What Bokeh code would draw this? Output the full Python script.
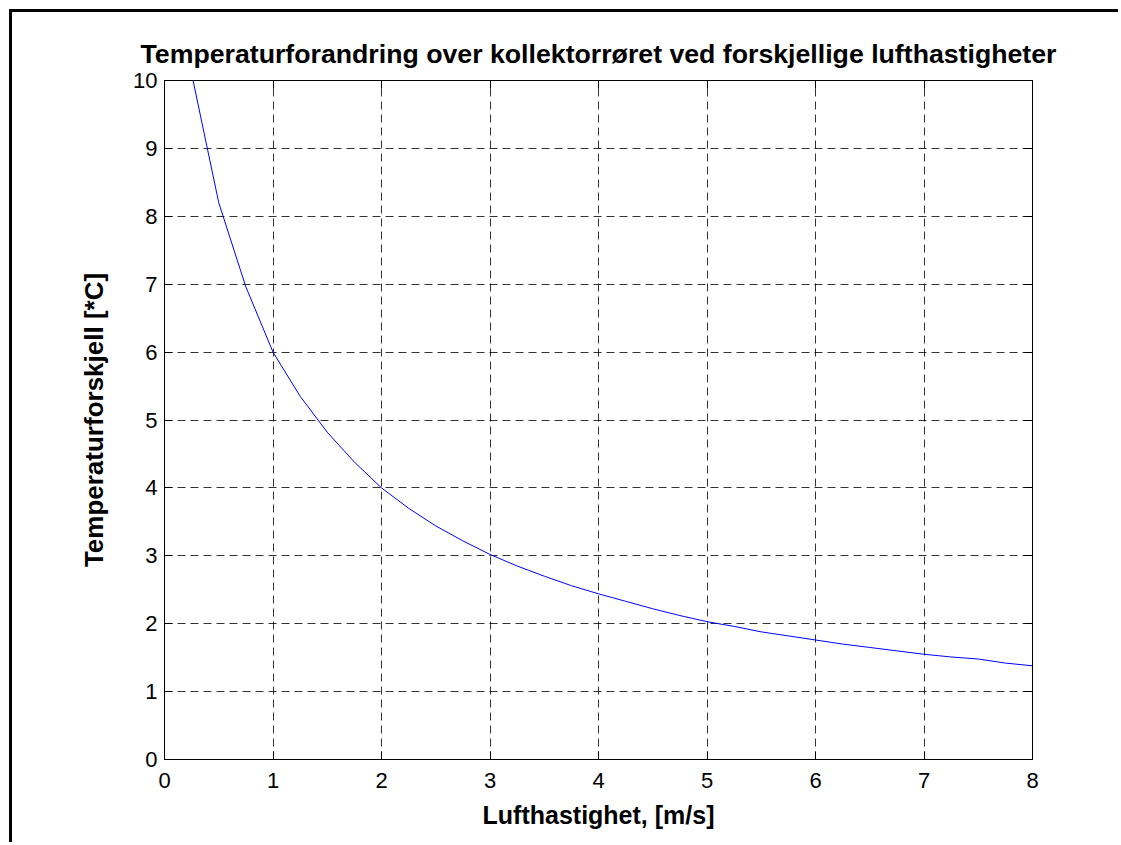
from bokeh.plotting import figure
from bokeh.models import LinearAxis, FixedTicker, Range1d
from bokeh.embed import file_html
from bokeh.resources import INLINE

title_text = "Temperaturforandring over kollektorrøret ved forskjellige lufthastigheter"
x_label = "Lufthastighet, [m/s]"
y_label = "Temperaturforskjell [*C]"

speed = [0.25, 0.5, 0.75, 1.0, 1.25, 1.5, 1.75, 2.0, 2.25, 2.5, 2.75, 3.0,
         3.25, 3.5, 3.75, 4.0, 4.25, 4.5, 4.75, 5.0, 5.25, 5.5, 5.75, 6.0,
         6.25, 6.5, 6.75, 7.0, 7.25, 7.5, 7.75, 8.0]
temp_diff = [10.1, 8.2, 6.96, 6.0, 5.35, 4.82, 4.38, 4.0, 3.70, 3.44, 3.22, 3.02,
             2.85, 2.70, 2.56, 2.44, 2.33, 2.22, 2.12, 2.03, 1.96, 1.88, 1.82, 1.76,
             1.70, 1.65, 1.60, 1.55, 1.51, 1.48, 1.42, 1.38]

x_ticks = [0, 1, 2, 3, 4, 5, 6, 7, 8]
y_ticks = [0, 1, 2, 3, 4, 5, 6, 7, 8, 9, 10]

FONT = "Liberation Sans"
OFF = 12  # outer border offset (9px margin + 3px border)

p = figure(width=1121 - OFF, height=845 - OFF, output_backend="svg", toolbar_location=None,
           x_range=Range1d(0, 8), y_range=Range1d(0, 10),
           min_border_left=164 - OFF, min_border_right=89, min_border_top=80 - OFF,
           min_border_bottom=86)
p.styles = {"margin-left": "9px", "margin-top": "9px",
            "border-left": "3px solid black", "border-top": "3px solid black"}
p.background_fill_color = "white"
p.border_fill_color = "white"
p.outline_line_color = "black"
p.outline_line_width = 1

p.title.text = title_text
p.title.text_font = FONT
p.title.text_font_size = "26.7px"
p.title.text_font_style = "bold"
p.title.text_color = "black"
p.title.align = "center"
p.title.offset = 0
p.title.standoff = 24

for ax, lab in ((p.xaxis[0], x_label), (p.yaxis[0], y_label)):
    ax.axis_label = lab
    ax.axis_label_text_font = FONT
    ax.axis_label_text_font_style = "bold"
    ax.axis_label_text_color = "black"
    ax.major_label_text_font = FONT
    ax.major_label_text_font_size = "22px"
    ax.major_label_text_color = "black"
    ax.major_tick_in = 8
    ax.major_tick_out = 0
    ax.minor_tick_line_color = None
    ax.axis_line_color = "black"
    ax.major_tick_line_color = "black"

p.xaxis[0].axis_label_text_font_size = "25px"
p.yaxis[0].axis_label_text_font_size = "26px"
p.xaxis[0].ticker = FixedTicker(ticks=x_ticks)
p.yaxis[0].ticker = FixedTicker(ticks=y_ticks)
p.xaxis[0].major_label_standoff = 13
p.yaxis[0].major_label_standoff = 7
p.xaxis[0].axis_label_standoff = 10
p.yaxis[0].axis_label_standoff = 21

right = LinearAxis(ticker=FixedTicker(ticks=y_ticks), major_label_text_font_size="0px",
                   major_tick_in=8, major_tick_out=0, minor_tick_line_color=None)
above = LinearAxis(ticker=FixedTicker(ticks=x_ticks), major_label_text_font_size="0px",
                   major_tick_in=8, major_tick_out=0, minor_tick_line_color=None)
p.add_layout(right, "right")
p.add_layout(above, "above")

p.xgrid.ticker = FixedTicker(ticks=x_ticks)
p.ygrid.ticker = FixedTicker(ticks=y_ticks)
for g in (p.xgrid[0], p.ygrid[0]):
    g.grid_line_color = "black"
    g.grid_line_dash = "8 5"
    g.grid_line_width = 1
    g.grid_line_alpha = 0.8

p.line(speed, temp_diff, line_color="#0000ff", line_width=1)

open("out.html", "w").write(file_html(p, INLINE))
